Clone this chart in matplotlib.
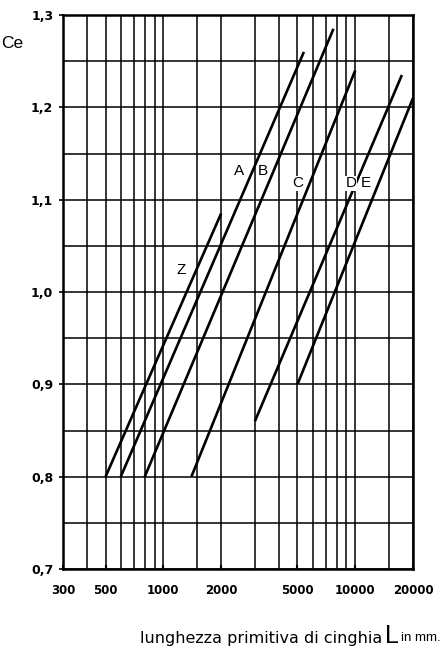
import numpy as np
import matplotlib
matplotlib.use("Agg")
import matplotlib.pyplot as plt
from matplotlib.ticker import FixedLocator, FixedFormatter, NullFormatter

# belt sections: start / end of each line (L in mm, Ce)
sections = ["Z", "A", "B", "C", "D", "E"]
L_start = [500, 600, 800, 1400, 3000, 5000]
L_end = [2000, 5400, 7700, 10000, 17500, 20000]
ce_start = [0.80, 0.80, 0.80, 0.80, 0.86, 0.90]
ce_end = [1.085, 1.26, 1.285, 1.24, 1.235, 1.21]

# where the letters sit
label_L = [1240, 2470, 3300, 5030, 9500, 11300]
label_ce = [1.024, 1.131, 1.131, 1.118, 1.118, 1.118]

x_ticks = [300, 500, 1000, 2000, 5000, 10000, 20000]
x_tick_labels = ["300", "500", "1000", "2000", "5000", "10000", "20000"]
x_grid = [400, 600, 700, 800, 900, 1500, 3000, 4000, 6000, 7000, 8000, 9000, 15000]
y_ticks = [0.7, 0.8, 0.9, 1.0, 1.1, 1.2, 1.3]
y_tick_labels = ["0,7", "0,8", "0,9", "1,0", "1,1", "1,2", "1,3"]
y_grid = [0.75, 0.85, 0.95, 1.05, 1.15, 1.25]

plt.rcParams['font.family'] = ['Liberation Sans', 'DejaVu Sans']

fig = plt.figure(figsize=(4.44, 6.69), dpi=100)
ax = fig.add_axes([63/444, 1-569/669, 350/444, 554/669])

ax.set_xscale('log')
ax.set_xlim(300, 20000)
ax.set_ylim(0.7, 1.3)

ax.xaxis.set_major_locator(FixedLocator(x_ticks))
ax.xaxis.set_major_formatter(FixedFormatter(x_tick_labels))
ax.xaxis.set_minor_locator(FixedLocator(x_grid))
ax.xaxis.set_minor_formatter(NullFormatter())
ax.yaxis.set_major_locator(FixedLocator(y_ticks))
ax.yaxis.set_major_formatter(FixedFormatter(y_tick_labels))
ax.yaxis.set_minor_locator(FixedLocator(y_grid))

ax.grid(which='both', color='black', linewidth=1.1)
ax.set_axisbelow(True)

ax.tick_params(axis='x', which='major', direction='in', length=3, width=1.5,
               pad=11, labelsize=8.5)
ax.tick_params(axis='y', which='major', direction='out', length=3, width=1.2,
               pad=4, labelsize=9)
ax.tick_params(which='minor', length=0)
for lab in ax.get_xticklabels() + ax.get_yticklabels():
    lab.set_fontweight('bold')
    lab.set_fontfamily('DejaVu Sans')

for sp in ax.spines.values():
    sp.set_linewidth(1.8)

for name, l0, l1, c0, c1, lx, ly in zip(sections, L_start, L_end, ce_start, ce_end,
                                        label_L, label_ce):
    ax.plot([l0, l1], [c0, c1], color='black', linewidth=1.9, solid_capstyle='butt')
    ax.text(lx, ly, name, fontsize=11, ha='center', va='center',
            bbox=dict(facecolor='white', edgecolor='none', pad=0.3))

fig.text(12/444, 1-43/669, "Ce", fontsize=12.5, ha='center', va='center')
fig.text(382/444, 1-638/669, "lunghezza primitiva di cinghia", fontsize=11.5,
         family='DejaVu Sans', ha='right', va='center')
fig.text(385/444, 1-636/669, "L", fontsize=18, ha='left', va='center')
fig.text(401/444, 1-638/669, "in mm.", fontsize=9.5, ha='left', va='center')

fig.savefig("out.png", dpi=100, facecolor='white')
